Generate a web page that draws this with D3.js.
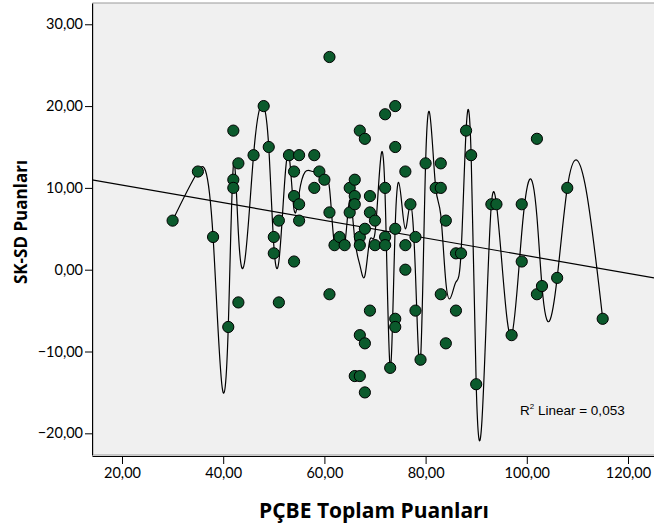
<!DOCTYPE html>
<html>
<head>
<meta charset="utf-8">
<script src="https://cdn.jsdelivr.net/npm/d3@7"></script>
<style>
  body { margin: 0; background: #fff; }
  .tick text { font-family: Lato, "DejaVu Sans", sans-serif; font-size: 14.5px; fill: #000; }
</style>
</head>
<body>
<div id="chart"></div>
<script>
// PÇBE total (x) vs SK-SD (y)
const pcbe = [30, 35, 38, 41, 42, 42, 42, 43, 43, 46, 48, 49, 50, 50, 51, 51,
  53, 54, 54, 54, 55, 55, 55, 58, 58, 59, 60, 61, 61, 61, 62, 63, 64, 65, 65,
  66, 66, 66, 66, 67, 67, 67, 67, 67, 68, 68, 68, 68, 69, 69, 69, 70, 70,
  72, 72, 72, 72, 73, 74, 74, 74, 74, 74, 76, 76, 76, 77, 78, 78, 79, 80,
  82, 83, 83, 83, 84, 84, 86, 86, 87, 88, 89, 90, 93, 94, 97, 99, 99,
  102, 102, 103, 106, 108, 115];
const sksd = [6, 12, 4, -7, 17, 11, 10, 13, -4, 14, 20, 15, 4, 2, 6, -4,
  14, 12, 9, 1, 14, 8, 6, 14, 10, 12, 11, 26, 7, -3, 3, 4, 3, 10, 7,
  11, 9, 8, -13, 17, 4, 3, -8, -13, 16, 5, -9, -15, 9, 7, -5, 6, 3,
  19, 10, 4, 3, -12, 20, 15, 5, -6, -7, 12, 3, 0, 8, 4, -5, -11, 13,
  10, 13, 10, -3, 6, -9, 2, -5, 2, 17, 14, -14, 8, 8, -8, 8, 1,
  16, -3, -2, -1, 10, -6];
const xTicks = [20, 40, 60, 80, 100, 120];
const yTicks = [-20, -10, 0, 10, 20, 30];
const r2Label = 'Linear = 0,053';

const W = 654, H = 526;
const mLeft = 92, mRight = 654, mTop = 3, mBottom = 455;

const fmt = d => d3.format('.2f')(d).replace('.', ',');

// natural cubic spline in x (y as a function of x), drawn as bezier pieces
function SplineX(context) { this._context = context; }
SplineX.prototype = {
  areaStart() { this._line = 0; },
  areaEnd() { this._line = NaN; },
  lineStart() { this._x = []; this._y = []; },
  point(x, y) { this._x.push(+x); this._y.push(+y); },
  lineEnd() {
    const xs = this._x, ys = this._y, n = xs.length - 1, ctx = this._context;
    if (n < 0) return;
    ctx.moveTo(xs[0], ys[0]);
    if (n === 0) return;
    const h = d3.range(n).map(i => xs[i + 1] - xs[i]);
    const M = new Array(n + 1).fill(0);
    if (n > 1) {
      // tridiagonal solve for the inner second derivatives
      const a = [], b = [], c = [], r = [];
      for (let i = 1; i < n; i++) {
        a.push(h[i - 1]); b.push(2 * (h[i - 1] + h[i])); c.push(h[i]);
        r.push(6 * ((ys[i + 1] - ys[i]) / h[i] - (ys[i] - ys[i - 1]) / h[i - 1]));
      }
      const m = b.length;
      for (let i = 1; i < m; i++) {
        const w = a[i] / b[i - 1];
        b[i] -= w * c[i - 1];
        r[i] -= w * r[i - 1];
      }
      M[m] = r[m - 1] / b[m - 1];
      for (let i = m - 2; i >= 0; i--) M[i + 1] = (r[i] - c[i] * M[i + 2]) / b[i];
    }
    for (let i = 0; i < n; i++) {
      const s = (ys[i + 1] - ys[i]) / h[i];
      const d0 = s - h[i] * (2 * M[i] + M[i + 1]) / 6;
      const d1 = s + h[i] * (M[i] + 2 * M[i + 1]) / 6;
      ctx.bezierCurveTo(xs[i] + h[i] / 3, ys[i] + d0 * h[i] / 3,
        xs[i + 1] - h[i] / 3, ys[i + 1] - d1 * h[i] / 3,
        xs[i + 1], ys[i + 1]);
    }
  }
};
const curveSplineX = context => new SplineX(context);

const svg = d3.select('#chart').append('svg')
  .attr('width', W)
  .attr('height', H);

const x = d3.scaleLinear().domain([14.07, 125.14]).range([mLeft, mRight]);
const y = d3.scaleLinear().domain([-22.65, 32.6]).range([mBottom, mTop]);

const data = pcbe.map((d, i) => ({x: d, y: sksd[i]}));

// plot background + frame
svg.append('rect')
  .attr('x', mLeft + 1).attr('y', mTop)
  .attr('width', mRight - mLeft).attr('height', mBottom - mTop)
  .attr('fill', '#f0f0f0')
  .attr('stroke', '#9a9a9a');

// regression line (least squares)
const mx = d3.mean(data, d => d.x), my = d3.mean(data, d => d.y);
const slope = d3.sum(data, d => (d.x - mx) * (d.y - my)) / d3.sum(data, d => (d.x - mx) ** 2);
const icpt = my - slope * mx;
const xd = x.domain();

const plot = svg.append('g');
plot.append('clipPath').attr('id', 'clip')
  .append('rect').attr('x', mLeft).attr('y', mTop)
  .attr('width', mRight - mLeft).attr('height', mBottom - mTop);

plot.append('line')
  .attr('clip-path', 'url(#clip)')
  .attr('x1', x(xd[0])).attr('y1', y(icpt + slope * xd[0]))
  .attr('x2', x(xd[1])).attr('y2', y(icpt + slope * xd[1]))
  .attr('stroke', '#000').attr('stroke-width', 1.2);

// spline interpolation through mean y at each x
const means = d3.rollups(data, v => d3.mean(v, d => d.y), d => d.x)
  .sort((a, b) => a[0] - b[0]);

plot.append('path')
  .attr('clip-path', 'url(#clip)')
  .datum(means)
  .attr('fill', 'none')
  .attr('stroke', '#000')
  .attr('stroke-width', 1.2)
  .attr('d', d3.line().x(d => x(d[0])).y(d => y(d[1])).curve(curveSplineX));

// points
plot.selectAll('circle')
  .data(data)
  .enter()
  .append('circle')
  .attr('cx', d => x(d.x))
  .attr('cy', d => y(d.y))
  .attr('r', 5.6)
  .attr('fill', '#0b5a2c')
  .attr('stroke', '#000')
  .attr('stroke-width', 1);

// axes
svg.append('g')
  .attr('transform', 'translate(0,' + (mBottom + 1) + ')')
  .call(d3.axisBottom(x).tickValues(xTicks).tickFormat(fmt).tickSize(8).tickSizeOuter(0).tickPadding(4))
  .call(g => g.select('.domain').attr('stroke', '#000'));

svg.append('g')
  .attr('transform', 'translate(' + mLeft + ',0)')
  .call(d3.axisLeft(y).tickValues(yTicks).tickFormat(fmt).tickSize(7).tickSizeOuter(0).tickPadding(2))
  .call(g => g.select('.domain').attr('stroke', '#000'));

// R² annotation
const ann = svg.append('text')
  .attr('x', 520).attr('y', 415)
  .attr('font-family', '"Liberation Sans", Arial, sans-serif')
  .attr('font-size', 13.5);
ann.append('tspan').text('R');
ann.append('tspan').attr('font-size', 8).attr('dy', -6).text('2');
ann.append('tspan').attr('dy', 6).text(' ' + r2Label);

// axis titles
svg.append('text')
  .attr('x', 374).attr('y', 518)
  .attr('text-anchor', 'middle')
  .attr('font-family', '"Open Sans", "DejaVu Sans", sans-serif')
  .attr('font-weight', 'bold')
  .attr('font-size', 21)
  .text('PÇBE Toplam Puanları');

svg.append('text')
  .attr('transform', 'translate(27,222) rotate(-90)')
  .attr('text-anchor', 'middle')
  .attr('font-family', '"Open Sans", "DejaVu Sans", sans-serif')
  .attr('font-weight', 'bold')
  .attr('font-size', 17)
  .text('SK-SD Puanları');
</script>
</body>
</html>
